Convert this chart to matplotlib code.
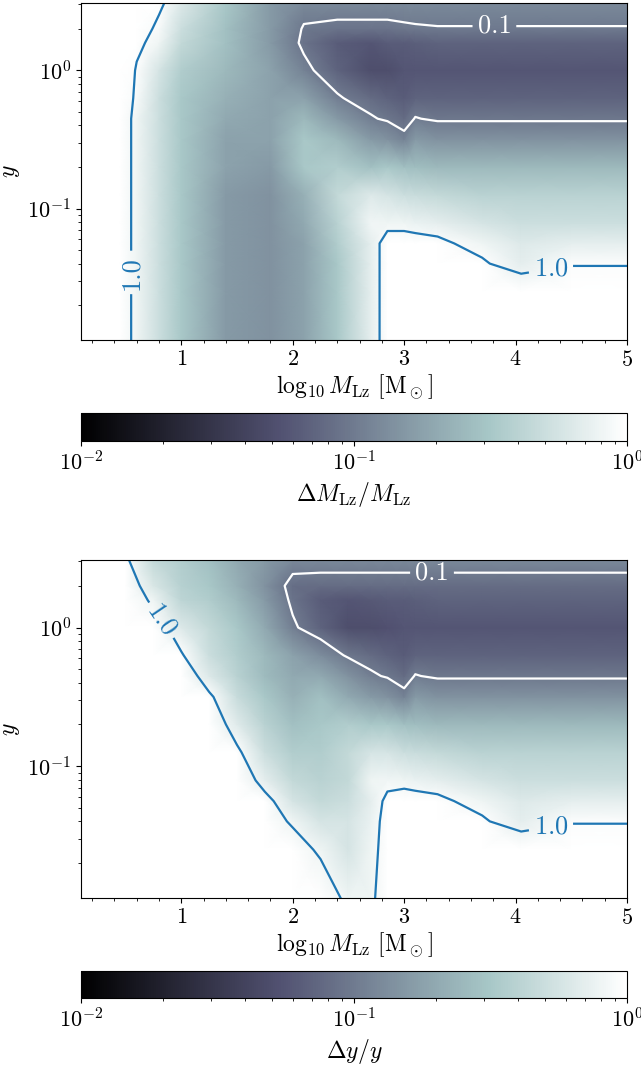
import numpy as np
from matplotlib import pyplot as plt
from matplotlib.colors import LogNorm
import matplotlib.ticker as mticker

plt.rcParams["font.family"] = "serif"
plt.rcParams["font.serif"] = ["cmr10"]
plt.rcParams["mathtext.fontset"] = "cm"
plt.rcParams["axes.formatter.use_mathtext"] = True
plt.rcParams["axes.unicode_minus"] = False
plt.rcParams["font.size"] = 16

# ----------------------------------------------------------------------
# DATA — relative errors, stored as log10(error)
# rows follow Y_GRID (bottom -> top), columns follow the x grids
# ----------------------------------------------------------------------

Y_GRID = [0.011, 0.025, 0.04, 0.056, 0.079, 0.126, 0.2, 0.316,
          0.447, 0.63, 1.0, 1.58, 2.0, 3.1]

X_MASS = [0.1, 0.45, 0.6, 0.8, 1.0, 1.4, 1.8, 2.1, 2.4, 2.7, 2.85,
          3.0, 3.1, 3.3, 3.7, 4.05, 4.5, 5.0]

LOG_ERR_MASS = [
    [0.3, 0.15, -0.1, -0.3, -0.5, -0.8, -0.85, -0.75, -0.5, -0.15, 0.1, 0.3, 0.3, 0.3, 0.3, 0.3, 0.3, 0.3],
    [0.3, 0.15, -0.1, -0.3, -0.5, -0.8, -0.85, -0.75, -0.5, -0.15, 0.1, 0.3, 0.3, 0.3, 0.25, 0.15, 0.2, 0.2],
    [0.3, 0.15, -0.1, -0.3, -0.5, -0.8, -0.85, -0.75, -0.5, -0.15, 0.1, 0.2, 0.18, 0.15, 0.03, -0.15, -0.03, -0.03],
    [0.3, 0.15, -0.1, -0.3, -0.5, -0.8, -0.85, -0.75, -0.45, -0.15, 0.1, 0.1, 0.08, 0.05, -0.1, -0.2, -0.15, -0.15],
    [0.3, 0.15, -0.1, -0.3, -0.5, -0.8, -0.85, -0.7, -0.4, -0.08, -0.1, -0.1, -0.12, -0.15, -0.25, -0.3, -0.3, -0.3],
    [0.3, 0.15, -0.1, -0.3, -0.5, -0.8, -0.85, -0.65, -0.35, -0.2, -0.25, -0.3, -0.32, -0.35, -0.4, -0.4, -0.4, -0.4],
    [0.3, 0.15, -0.1, -0.3, -0.5, -0.75, -0.8, -0.5, -0.45, -0.55, -0.5, -0.55, -0.57, -0.6, -0.6, -0.6, -0.6, -0.6],
    [0.3, 0.15, -0.1, -0.3, -0.5, -0.75, -0.75, -0.5, -0.6, -0.8, -0.85, -0.95, -0.8, -0.85, -0.85, -0.85, -0.85, -0.85],
    [0.3, 0.15, -0.1, -0.3, -0.5, -0.7, -0.75, -0.6, -0.8, -0.98, -1.03, -1.1, -0.99, -1.03, -1.03, -1.03, -1.03, -1.03],
    [0.3, 0.15, -0.05, -0.3, -0.5, -0.65, -0.75, -0.75, -0.98, -1.1, -1.15, -1.2, -1.15, -1.15, -1.15, -1.15, -1.15, -1.15],
    [0.3, 0.15, -0.02, -0.25, -0.45, -0.6, -0.75, -0.95, -1.15, -1.3, -1.3, -1.25, -1.25, -1.25, -1.25, -1.25, -1.25, -1.25],
    [0.3, 0.2, 0.05, -0.1, -0.35, -0.55, -0.8, -1.05, -1.2, -1.25, -1.2, -1.2, -1.18, -1.15, -1.15, -1.15, -1.15, -1.15],
    [0.3, 0.25, 0.1, -0.05, -0.3, -0.55, -0.8, -1.02, -1.05, -1.05, -1.05, -1.03, -1.02, -1.01, -1.01, -1.01, -1.01, -1.01],
    [0.3, 0.3, 0.2, 0.05, -0.2, -0.5, -0.8, -0.9, -0.9, -0.9, -0.9, -0.9, -0.9, -0.9, -0.9, -0.9, -0.9, -0.9],
]

X_Y = [0.1, 0.5, 0.75, 1.0, 1.25, 1.5, 1.75, 2.0, 2.25, 2.5, 2.7, 2.85,
       3.0, 3.1, 3.3, 3.7, 4.05, 4.5, 5.0]

LOG_ERR_Y = [
    [0.3, 0.3, 0.3, 0.3, 0.3, 0.3, 0.3, 0.3, 0.2, -0.1, -0.1, 0.2, 0.3, 0.3, 0.3, 0.3, 0.3, 0.3, 0.3],
    [0.3, 0.3, 0.3, 0.3, 0.3, 0.3, 0.3, 0.2, -0.1, -0.25, -0.1, 0.1, 0.3, 0.3, 0.3, 0.25, 0.15, 0.2, 0.2],
    [0.3, 0.3, 0.3, 0.3, 0.3, 0.3, 0.25, -0.1, -0.25, -0.25, -0.12, 0.08, 0.2, 0.18, 0.15, 0.03, -0.15, -0.03, -0.03],
    [0.3, 0.3, 0.3, 0.3, 0.3, 0.3, 0.08, -0.25, -0.35, -0.3, -0.15, 0.05, 0.1, 0.08, 0.05, -0.1, -0.2, -0.15, -0.15],
    [0.3, 0.3, 0.3, 0.3, 0.3, 0.2, -0.15, -0.35, -0.4, -0.35, -0.1, -0.08, -0.1, -0.12, -0.15, -0.25, -0.3, -0.3, -0.3],
    [0.3, 0.3, 0.3, 0.3, 0.3, 0.04, -0.3, -0.45, -0.45, -0.35, -0.25, -0.25, -0.3, -0.32, -0.35, -0.4, -0.4, -0.4, -0.4],
    [0.3, 0.3, 0.3, 0.3, 0.18, -0.18, -0.4, -0.55, -0.5, -0.45, -0.5, -0.5, -0.55, -0.57, -0.6, -0.6, -0.6, -0.6, -0.6],
    [0.3, 0.3, 0.3, 0.3, 0.04, -0.32, -0.5, -0.65, -0.55, -0.7, -0.8, -0.85, -0.95, -0.8, -0.85, -0.85, -0.85, -0.85, -0.85],
    [0.3, 0.3, 0.3, 0.18, -0.2, -0.4, -0.58, -0.7, -0.7, -0.85, -0.97, -1.02, -1.1, -0.99, -1.03, -1.03, -1.03, -1.03, -1.03],
    [0.3, 0.3, 0.25, 0.02, -0.3, -0.45, -0.6, -0.75, -0.88, -1.03, -1.1, -1.15, -1.2, -1.15, -1.15, -1.15, -1.15, -1.15, -1.15],
    [0.3, 0.3, 0.12, -0.2, -0.35, -0.5, -0.7, -0.97, -1.15, -1.3, -1.3, -1.28, -1.25, -1.25, -1.25, -1.25, -1.25, -1.25, -1.25],
    [0.3, 0.25, -0.1, -0.38, -0.45, -0.6, -0.8, -1.05, -1.2, -1.25, -1.22, -1.2, -1.2, -1.18, -1.15, -1.15, -1.15, -1.15, -1.15],
    [0.3, 0.15, -0.22, -0.42, -0.5, -0.65, -0.85, -1.08, -1.1, -1.1, -1.1, -1.1, -1.1, -1.1, -1.1, -1.1, -1.1, -1.1, -1.1],
    [0.3, 0.03, -0.35, -0.45, -0.55, -0.7, -0.8, -0.9, -0.9, -0.9, -0.9, -0.9, -0.9, -0.9, -0.9, -0.9, -0.9, -0.9, -0.9],
]

# the 1.0 contour is drawn as a left and a right branch, split at this x
SPLIT_MASS = 2.1
SPLIT_Y = 2.5

# where the contour labels sit (data coords)
LABEL_LOW_MASS = (3.81, 2.08)
LABEL_LEFT_MASS = (0.55, 0.034)
LABEL_RIGHT_MASS = (4.31, 0.04)
LABEL_LOW_Y = (3.25, 2.5)
LABEL_LEFT_Y = (0.83, 1.13)
LABEL_RIGHT_Y = (4.31, 0.04)

# ----------------------------------------------------------------------
# PLOTTING
# ----------------------------------------------------------------------

NORM = LogNorm(vmin=1e-2, vmax=1e0)
CMAP = "bone"
BLUE = "#1f77b4"
XLABEL = r"$\log_{10} M_\mathrm{Lz}\ [\mathrm{M}_\odot]$"
CLABEL_SIZE = 19


def draw_panel(ax, cax, xs, log_err, split, lab_low, lab_left, lab_right,
               cbar_label, left_rot=None):
    # axis scale first: clabel cuts its gaps in screen space
    ax.set_yscale("log")
    ax.set_xlim(0.1, 5.0)
    ax.set_ylim(0.0112, 3.07)
    ax.xaxis.set_major_locator(mticker.MultipleLocator(1))
    ax.xaxis.set_minor_locator(mticker.AutoMinorLocator(5))
    ax.set_xlabel(XLABEL, labelpad=2, fontsize=17)
    ax.set_ylabel(r"$y$", fontsize=17)

    xs = np.array(xs)
    err = 10.0 ** np.array(log_err)
    mesh = ax.pcolormesh(xs, Y_GRID, err, cmap=CMAP, norm=NORM,
                         shading="gouraud")

    cs_low = ax.contour(xs, Y_GRID, err, levels=[0.1], colors="white",
                        linewidths=1.6)
    ax.clabel(cs_low, fmt="%.1f", manual=[lab_low], inline=True,
              fontsize=CLABEL_SIZE)

    left = xs <= split
    right = xs >= split
    cs_left = ax.contour(xs[left], Y_GRID, err[:, left], levels=[1.0],
                         colors=BLUE, linewidths=1.6)
    txt = ax.clabel(cs_left, fmt="%.1f", manual=[lab_left], inline=True,
                    fontsize=CLABEL_SIZE)
    if left_rot is not None:
        for t in txt:
            t.set_rotation(left_rot)
    cs_right = ax.contour(xs[right], Y_GRID, err[:, right], levels=[1.0],
                          colors=BLUE, linewidths=1.6)
    txt = ax.clabel(cs_right, fmt={1.0: r"$\mathit{1.0}$"},
                    manual=[lab_right], inline=True, fontsize=CLABEL_SIZE)
    for t in txt:
        t.set_rotation(0)

    # keep the limits fixed after the contour calls
    ax.set_xlim(0.1, 5.0)
    ax.set_ylim(0.0112, 3.07)

    cb = plt.colorbar(mesh, cax=cax, orientation="horizontal")
    cb.set_label(cbar_label, fontsize=17)
    return mesh


def main():
    fig = plt.figure(figsize=(6.41, 10.65), dpi=100)
    W, H = 641, 1065
    left, width = 81 / W, 546 / W

    ax1 = fig.add_axes([left, 1 - 340 / H, width, 337 / H])
    cax1 = fig.add_axes([left, 1 - 441 / H, width, 28 / H])
    ax2 = fig.add_axes([left, 1 - 898 / H, width, 338 / H])
    cax2 = fig.add_axes([left, 1 - 998 / H, width, 27 / H])

    draw_panel(ax1, cax1, X_MASS, LOG_ERR_MASS, SPLIT_MASS,
               LABEL_LOW_MASS, LABEL_LEFT_MASS, LABEL_RIGHT_MASS,
               r"$\Delta M_\mathrm{Lz}/M_\mathrm{Lz}$", left_rot=90)
    draw_panel(ax2, cax2, X_Y, LOG_ERR_Y, SPLIT_Y,
               LABEL_LOW_Y, LABEL_LEFT_Y, LABEL_RIGHT_Y, r"$\Delta y/y$")

    plt.savefig("out.png", dpi=100)
    plt.close(fig)


if __name__ == "__main__":
    main()
